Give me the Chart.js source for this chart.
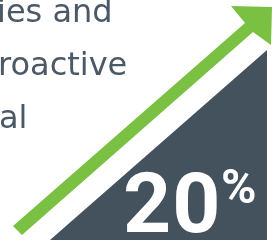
<!DOCTYPE html>
<html>
<head>
<meta charset="utf-8">
<script src="https://cdn.jsdelivr.net/npm/chart.js@4.4.0/dist/chart.umd.min.js"></script>
<style>
  html, body { margin: 0; padding: 0; background: #fff; }
  #wrap { position: relative; width: 278px; height: 243px; overflow: hidden; }
  #growthChart { position: absolute; left: 0; top: 0; }
  .copy { position: absolute; font-family: "DejaVu Sans", sans-serif; font-size: 32px; line-height: 32px; color: #4b5866; white-space: nowrap; }
  .big { position: absolute; font-family: Roboto, sans-serif; font-weight: 700; color: #fff; white-space: nowrap; }
</style>
</head>
<body>
<div id="wrap">
  <canvas id="growthChart" width="278" height="243"></canvas>
  <div class="copy" style="left:-3px; top:-5px;">ies and</div>
  <div class="copy" style="left:-2px; top:48px;">roactive</div>
  <div class="copy" style="left:-1px; top:101px;">al</div>
  <div class="big" id="valueNum" style="left:123px; top:162px; font-size:84px; line-height:84px; letter-spacing:1px;"></div>
  <div class="big" id="valuePct" style="left:221px; top:161px; font-size:48px; line-height:52px;">%</div>
</div>
<script>
// valeur affichée
const headline = 20

// zone sombre (rampe)
const areaX = [50, 267]
const areaY = [3, 193]
const areaBase = 3

// flèche verte (contour)
const arrowX = [13, 245, 231, 272, 271, 253, 22, 13]
const arrowY = [17, 220, 237, 236, 198, 211, 8, 17]

document.getElementById('valueNum').textContent = headline

const areaPts = areaX.map((x, i) => ({ x: x, y: areaY[i] }))
const arrowPts = arrowX.map((x, i) => ({ x: x, y: arrowY[i] }))

const ctx = document.getElementById('growthChart').getContext('2d')
const growthChart = new Chart(ctx, {
  type: 'scatter',
  data: {
    datasets: [
      {
        label: 'rampe',
        data: areaPts,
        showLine: true,
        borderWidth: 0,
        pointRadius: 0,
        backgroundColor: '#44525e',
        fill: { value: areaBase },
        tension: 0
      },
      {
        label: 'flèche',
        data: arrowPts,
        showLine: true,
        borderWidth: 0,
        pointRadius: 0,
        backgroundColor: '#7ac143',
        fill: 'shape',
        tension: 0
      }
    ]
  },
  options: {
    responsive: false,
    animation: false,
    layout: { padding: 0 },
    plugins: {
      legend: { display: false },
      tooltip: { enabled: false }
    },
    scales: {
      x: { type: 'linear', min: 0, max: 278, display: false },
      y: { type: 'linear', min: 0, max: 243, display: false }
    }
  }
})
</script>
</body>
</html>
